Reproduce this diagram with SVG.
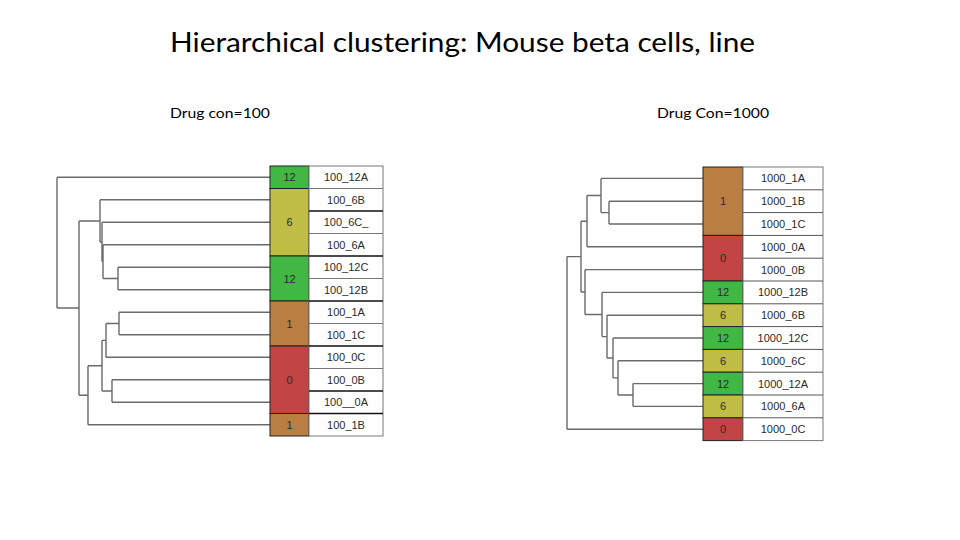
<svg xmlns="http://www.w3.org/2000/svg" width="960" height="540" viewBox="0 0 960 540">
<style>
.title{font-family:Lato,"Open Sans","Liberation Sans",sans-serif;font-size:27px;fill:#000}
.sub{font-family:Lato,"Open Sans","Liberation Sans",sans-serif;font-size:14px;fill:#000}
.cell{font-family:"Liberation Sans",Arial,sans-serif;font-size:11px;fill:#2a2a2a;text-anchor:middle;dominant-baseline:central}
.g{fill:#40b843}.o{fill:#bfbd45}.b{fill:#b97e42}.r{fill:#c24444}
.cc{stroke:#222;stroke-width:1}
.lab{fill:#fff;stroke:#777;stroke-width:1}
.dk{stroke:#111;stroke-width:1.5}
.den{fill:none;stroke:#6a6a6a;stroke-width:1.4}
</style>
<rect width="960" height="540" fill="#fff"/>
<text class="title" x="170" y="52" textLength="585" lengthAdjust="spacingAndGlyphs">Hierarchical clustering: Mouse beta cells, line</text>
<text class="sub" x="170" y="118" textLength="100" lengthAdjust="spacingAndGlyphs">Drug con=100</text>
<text class="sub" x="657" y="118" textLength="112" lengthAdjust="spacingAndGlyphs">Drug Con=1000</text>

<g id="connectors">
<path class="den" d="M57,177.25H270 M100,199.75H270 M102,222.25H270 M103,244.75H270 M118,267.25H270 M118,289.75H270 M119,312.25H270 M119,334.75H270 M106,357.25H270 M112,379.75H270 M112,402.25H270 M88,424.75H270
M118,267.25V289.75 M103,278.5H118 M103,244.75V278.5 M102,261.6H103 M102,222.25V261.6 M100,242H102 M100,199.75V242 M79,221H100
M119,312.25V334.75 M106,323.5H119 M106,323.5V357.25 M102,340.4H106 M112,379.75V402.25 M102,391H112 M102,340.4V391 M88,365.7H102 M88,365.7V424.75 M79,395.2H88 M79,221V395.2 M57,308H79 M57,177.25V308"/>
<path class="den" d="M601,178.4H703 M609,201.2H703 M609,224H703 M587,246.8H703 M585,269.6H703 M602,292.4H703 M607,315.2H703 M613,338H703 M618,360.8H703 M633,383.6H703 M633,406.4H703 M567,429.2H703
M609,201.2V224 M601,212.6H609 M601,178.4V212.6 M587,195.5H601 M587,195.5V246.8 M581,221.2H587
M633,383.6V406.4 M618,395H633 M618,360.8V395 M613,377.9H618 M613,338V377.9 M607,358H613 M607,315.2V358 M602,336.6H607 M602,292.4V336.6 M585,314.5H602 M585,269.6V314.5 M581,292H585 M581,221.2V292 M567,256.6H581 M567,256.6V429.2"/>
</g>

<g id="left-table">
<g id="l-colors">
<rect class="g cc" x="270" y="166" width="39" height="22.5"/>
<rect class="o cc" x="270" y="188.5" width="39" height="67.5"/>
<rect class="g cc" x="270" y="256" width="39" height="45"/>
<rect class="b cc" x="270" y="301" width="39" height="45"/>
<rect class="r cc" x="270" y="346" width="39" height="67.5"/>
<rect class="b cc" x="270" y="413.5" width="39" height="22.5"/>
<text class="cell" x="289.5" y="177.25">12</text>
<text class="cell" x="289.5" y="222.25">6</text>
<text class="cell" x="289.5" y="278.5">12</text>
<text class="cell" x="289.5" y="323.5">1</text>
<text class="cell" x="289.5" y="379.75">0</text>
<text class="cell" x="289.5" y="424.75">1</text>
</g>
<g id="l-labels">
<rect class="lab" x="309" y="166" width="74" height="270"/>
<path stroke="#777" stroke-width="1" d="M309,188.5H383 M309,233.5H383 M309,278.5H383 M309,323.5H383 M309,368.5H383"/>
<path class="dk" d="M309,211H383 M309,256H383 M309,301H383 M309,346H383 M309,391H383 M309,413.5H383"/>
<text class="cell" x="346" y="177.25">100_12A</text>
<text class="cell" x="346" y="199.75">100_6B</text>
<text class="cell" x="346" y="222.25">100_6C_</text>
<text class="cell" x="346" y="244.75">100_6A</text>
<text class="cell" x="346" y="267.25">100_12C</text>
<text class="cell" x="346" y="289.75">100_12B</text>
<text class="cell" x="346" y="312.25">100_1A</text>
<text class="cell" x="346" y="334.75">100_1C</text>
<text class="cell" x="346" y="357.25">100_0C</text>
<text class="cell" x="346" y="379.75">100_0B</text>
<text class="cell" x="346" y="402.25">100__0A</text>
<text class="cell" x="346" y="424.75">100_1B</text>
</g>
</g>

<g id="right-table">
<g id="r-colors">
<rect class="b cc" x="703" y="167" width="40" height="68.4"/>
<rect class="r cc" x="703" y="235.4" width="40" height="45.6"/>
<rect class="g cc" x="703" y="281" width="40" height="22.8"/>
<rect class="o cc" x="703" y="303.8" width="40" height="22.8"/>
<rect class="g cc" x="703" y="326.6" width="40" height="22.8"/>
<rect class="o cc" x="703" y="349.4" width="40" height="22.8"/>
<rect class="g cc" x="703" y="372.2" width="40" height="22.8"/>
<rect class="o cc" x="703" y="395" width="40" height="22.8"/>
<rect class="r cc" x="703" y="417.8" width="40" height="22.8"/>
<text class="cell" x="723" y="201.2">1</text>
<text class="cell" x="723" y="258.2">0</text>
<text class="cell" x="723" y="292.4">12</text>
<text class="cell" x="723" y="315.2">6</text>
<text class="cell" x="723" y="338">12</text>
<text class="cell" x="723" y="360.8">6</text>
<text class="cell" x="723" y="383.6">12</text>
<text class="cell" x="723" y="406.4">6</text>
<text class="cell" x="723" y="429.2">0</text>
</g>
<g id="r-labels">
<rect class="lab" x="743" y="167" width="80" height="273.6"/>
<path stroke="#555" stroke-width="1" d="M743,189.8H823 M743,212.6H823 M743,235.4H823 M743,258.2H823 M743,281H823 M743,303.8H823 M743,326.6H823 M743,349.4H823 M743,372.2H823 M743,395H823 M743,417.8H823"/>
<text class="cell" x="783" y="178.4">1000_1A</text>
<text class="cell" x="783" y="201.2">1000_1B</text>
<text class="cell" x="783" y="224">1000_1C</text>
<text class="cell" x="783" y="246.8">1000_0A</text>
<text class="cell" x="783" y="269.6">1000_0B</text>
<text class="cell" x="783" y="292.4">1000_12B</text>
<text class="cell" x="783" y="315.2">1000_6B</text>
<text class="cell" x="783" y="338">1000_12C</text>
<text class="cell" x="783" y="360.8">1000_6C</text>
<text class="cell" x="783" y="383.6">1000_12A</text>
<text class="cell" x="783" y="406.4">1000_6A</text>
<text class="cell" x="783" y="429.2">1000_0C</text>
</g>
</g>
</svg>
